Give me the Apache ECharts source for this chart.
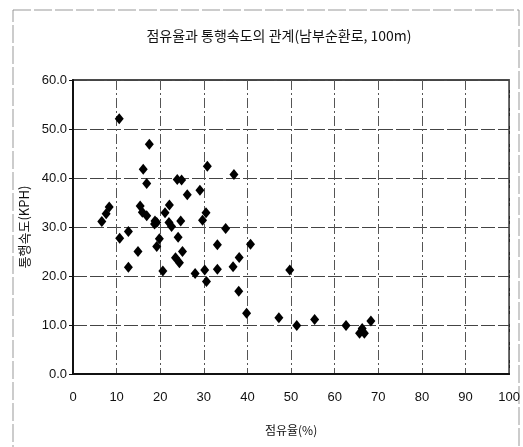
<!DOCTYPE html>
<html>
<head>
<meta charset="utf-8">
<script src="https://cdn.jsdelivr.net/npm/echarts@6/dist/echarts.min.js"></script>
<style>html,body{margin:0;padding:0;background:#fff;}#c{width:523px;height:447px;}</style>
</head>
<body>
<div id="c"></div>
<script>
// occupancy (%)
var occupancy = [10.6,17.5,16.1,16.9,23.9,24.9,26.2,8.3,7.6,6.6,15.4,15.9,16.9,18.8,19.2,18.7,22.1,21.1,22.0,22.6,24.7,10.7,12.7,14.9,12.7,19.8,19.2,24.1,25.1,23.5,24.4,20.6,30.8,36.9,29.1,30.5,29.7,35.0,33.1,40.7,38.1,28.0,30.2,30.6,33.1,36.7,38.0,39.8,47.2,51.3,55.4,62.6,65.7,66.8,66.3,68.3,49.7];
// speed (KPH)
var speed = [52.1,46.9,41.8,38.9,39.7,39.6,36.6,34.1,32.7,31.1,34.3,33.0,32.3,31.2,30.9,30.6,34.5,32.9,30.9,30.1,31.2,27.7,29.1,25.0,21.8,27.6,26.0,27.9,25.0,23.7,22.7,21.0,42.4,40.7,37.5,32.9,31.4,29.7,26.4,26.5,23.8,20.5,21.2,18.9,21.4,21.9,16.9,12.4,11.5,9.9,11.1,9.9,8.3,8.3,9.3,10.8,21.2];
var title = '점유율과 통행속도의 관계(남부순환로, 100m)';
var xName = '점유율(%)';
var yName = '통행속도(KPH)';

var pts = occupancy.map(function(v,i){return [v, speed[i]];});
var labelFont = "'Liberation Sans Narrow','Liberation Sans',sans-serif";
var chart = echarts.init(document.getElementById('c'));
chart.setOption({
  animation:false,
  backgroundColor:'#fff',
  title:{text:title,left:274,top:24,textAlign:'center',
    textStyle:{fontFamily:"'Noto Sans CJK KR',sans-serif",fontSize:14,fontWeight:'normal',color:'#111'}},
  graphic:[{type:'rect',shape:{x:13,y:10,width:506,height:445},
    style:{fill:'none',stroke:'#999',lineWidth:1,lineDash:[18,3]},silent:true}],
  grid:{left:73,right:13,top:80,bottom:73,show:true,borderColor:'#111',borderWidth:1.5},
  xAxis:{type:'value',min:0,max:100,interval:10,
    name:xName,nameLocation:'middle',nameGap:50,
    nameTextStyle:{fontFamily:"'Noto Sans CJK KR',sans-serif",fontSize:12,color:'#111'},
    axisLine:{show:true,lineStyle:{color:'#111',width:2}},
    axisTick:{show:false},
    axisLabel:{margin:17,fontFamily:labelFont,fontSize:13,color:'#111'},
    splitLine:{show:true,lineStyle:{color:'#555',width:1,type:[10,3,2,3]}}},
  yAxis:{type:'value',min:0,max:60,interval:10,
    name:yName,nameLocation:'middle',nameGap:34,nameRotate:90,
    nameTextStyle:{fontFamily:"'Noto Sans CJK KR',sans-serif",fontSize:13,color:'#111'},
    axisLine:{show:true,lineStyle:{color:'#111',width:2}},
    axisTick:{show:true,inside:false,length:4,lineStyle:{color:'#111'}},
    axisLabel:{margin:6,fontFamily:labelFont,fontSize:13,color:'#111',
      formatter:function(v){return v.toFixed(1);}},
    splitLine:{show:true,lineStyle:{color:'#444',width:1,type:[14,3]}}},
  series:[{type:'scatter',data:pts,symbol:'diamond',symbolSize:[9,11],
    itemStyle:{color:'#000',opacity:1}}]
});
</script>
</body>
</html>
